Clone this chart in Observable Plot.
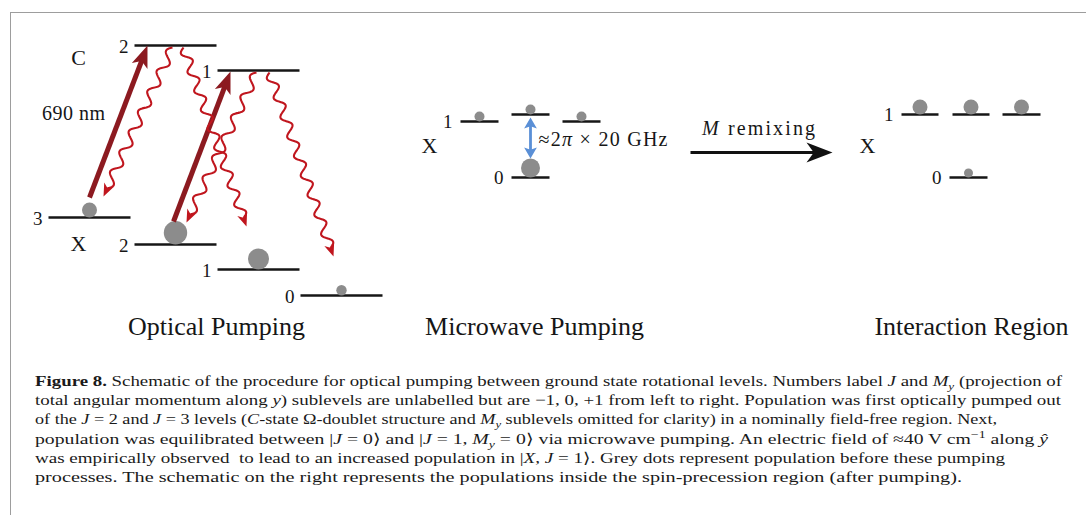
<!DOCTYPE html>
<html><head><meta charset="utf-8">
<script src="https://cdn.jsdelivr.net/npm/d3@7"></script>
<script src="https://cdn.jsdelivr.net/npm/@observablehq/plot@0.6"></script>
<style>
body{margin:0;background:#fff;width:1086px;height:515px;overflow:hidden;position:relative;}
#frame{position:absolute;left:9.5px;top:11.5px;width:1200px;height:600px;border-top:1.6px solid #9d9d9d;border-left:1.6px solid #9d9d9d;}
#chart{position:absolute;left:0;top:0;}
#caption{position:absolute;left:35px;top:372px;font-family:"Liberation Serif",serif;font-size:15px;color:#1a1a1a;}
.ln{white-space:nowrap;height:19.2px;line-height:19.2px;}
.ln span{display:inline-block;transform-origin:0 50%;}
sub,sup{line-height:0;font-size:70%;}
</style></head>
<body><div id="frame"></div><div id="chart"></div><div id="caption"></div>
<script>
// ---------- data ----------
const opticalLevels = [
  {state:"C", J:2, x1:134, x2:216, y:45,  label:"2", pop:0},
  {state:"C", J:1, x1:217, x2:299, y:70,  label:"1", pop:0},
  {state:"X", J:3, x1:48,  x2:130, y:217, label:"3", pop:7.5},
  {state:"X", J:2, x1:134, x2:216, y:244, label:"2", pop:11.7},
  {state:"X", J:1, x1:217, x2:299, y:269, label:"1", pop:10.5},
  {state:"X", J:0, x1:300, x2:382, y:295, label:"0", pop:5.2}
];
const microwaveLevels = [
  {J:1, M:-1, x1:460, x2:498, y:121, label:"1", pop:5},
  {J:1, M:0,  x1:511, x2:549, y:114, label:"",  pop:5},
  {J:1, M:1,  x1:562, x2:600, y:121, label:"",  pop:5},
  {J:0, M:0,  x1:511, x2:549, y:177, label:"0", pop:9.5}
];
const interactionLevels = [
  {J:1, M:-1, x1:901,  x2:938,  y:114, label:"1", pop:7.5},
  {J:1, M:0,  x1:952,  x2:989,  y:114, label:"",  pop:7.5},
  {J:1, M:1,  x1:1002, x2:1040, y:114, label:"",  pop:7.5},
  {J:0, M:0,  x1:949,  x2:987,  y:177, label:"0", pop:4.5}
];
const pumpArrows = [
  {from:"X J=3", to:"C J=2", x1:89,  y1:197, x2:147, y2:45},
  {from:"X J=2", to:"C J=1", x1:173, y1:221, x2:230, y2:71}
];
const decayArrows = [
  {from:"C J=2", to:"X J=3", x1:172, y1:47, x2:103, y2:196},
  {from:"C J=2", to:"X J=1", x1:183, y1:47, x2:246, y2:226},
  {from:"C J=1", to:"X J=2", x1:256, y1:72, x2:186, y2:222},
  {from:"C J=1", to:"X J=0", x1:269, y1:72, x2:333, y2:256}
];
const microwaveArrow = [{x1:530, y1:158, x2:530, y2:117}];
const remixArrow = [{x1:690, y1:152, x2:832, y2:152}];
const titles = [
  {text:"Optical Pumping", x:216, y:326},
  {text:"Microwave Pumping", x:534, y:326},
  {text:"Interaction Region", x:971, y:326}
];
const stateLabels = [
  {text:"C", x:78, y:57}, {text:"X", x:78, y:243},
  {text:"X", x:429, y:145}, {text:"X", x:867, y:145}
];
const notes = [
  {text:"690 nm", x:73, y:113, anchor:"middle"},
  {text:"≈2*π* × 20 GHz", x:538, y:139, anchor:"start"},
  {text:"*M* remixing", x:758, y:128, anchor:"middle"}
];
const captionLines = [
  '<b>Figure 8.</b> Schematic of the procedure for optical pumping between ground state rotational levels. Numbers label <i>J</i> and <i>M<sub>y</sub></i> (projection of',
  'total angular momentum along <i>y</i>) sublevels are unlabelled but are −1, 0, +1 from left to right. Population was first optically pumped out',
  'of the <i>J</i> = 2 and <i>J</i> = 3 levels (<i>C</i>-state Ω-doublet structure and <i>M<sub>y</sub></i> sublevels omitted for clarity) in a nominally field-free region. Next,',
  'population was equilibrated between |<i>J</i> = 0⟩ and |<i>J</i> = 1, <i>M<sub>y</sub></i> = 0⟩ via microwave pumping. An electric field of ≈40 V cm<sup>−1</sup> along <i>ŷ</i>',
  'was empirically observed&nbsp; to lead to an increased population in |<i>X</i>, <i>J</i> = 1⟩. Grey dots represent population before these pumping',
  'processes. The schematic on the right represents the populations inside the spin-precession region (after pumping).'
];
const captionEnds = [1062, 1061, 997, 1048, 1005, 962];

// ---------- helpers ----------
const allLevels = [...opticalLevels, ...microwaveLevels, ...interactionLevels];
const populations = allLevels.filter(d => d.pop > 0);
const angle = d => Math.atan2(d.x2 - d.x1, -(d.y2 - d.y1)) * 180 / Math.PI;

// curve: straight or wavy between two points, trimmed at the ends
function pathCurve({amp = 0, wavelength = 20, insetStart = 0, insetEnd = 0} = {}) {
  return (context) => {
    let pts;
    return {
      areaStart(){}, areaEnd(){},
      lineStart(){ pts = []; },
      point(x, y){ pts.push([+x, +y]); },
      lineEnd(){
        const [a, b] = [pts[0], pts[pts.length - 1]];
        const dx = b[0] - a[0], dy = b[1] - a[1], len = Math.hypot(dx, dy);
        const ux = dx / len, uy = dy / len, px = -uy, py = ux;
        const L = len - insetStart - insetEnd;
        const sx = a[0] + ux * insetStart, sy = a[1] + uy * insetStart;
        if (!amp) { context.moveTo(sx, sy); context.lineTo(sx + ux * L, sy + uy * L); return; }
        const n = Math.max(1, Math.round(L / wavelength));
        const steps = 240;
        for (let k = 0; k <= steps; k++) {
          const t = k / steps, s = t * L, off = amp * Math.sin(2 * Math.PI * n * t);
          const x = sx + ux * s + px * off, y = sy + uy * s + py * off;
          k ? context.lineTo(x, y) : context.moveTo(x, y);
        }
      }
    };
  };
}
// arrow head symbol, tip at origin pointing up; r = head length
function headSymbol(widthRatio, notch) {
  return {
    draw(ctx, size) {
      const L = Math.sqrt(size / Math.PI), W = widthRatio * L;
      ctx.moveTo(0, 0); ctx.lineTo(W, L); ctx.lineTo(0, notch * L); ctx.lineTo(-W, L); ctx.closePath();
    }
  };
}

const serif = "Liberation Serif";
const dark = "#161616";
const pumpRed = "#8c1a20", decayRed = "#c0161e", blue = "#5a8fd6", dotGrey = "#8c8c8c";

const chart = Plot.plot({
  width: 1086, height: 350, margin: 0,
  x: {domain: [0, 1086], range: [0, 1086], axis: null},
  y: {domain: [0, 350], range: [0, 350], axis: null},
  r: {type: "identity"},
  style: {background: "transparent", overflow: "visible"},
  marks: [
    // energy levels
    Plot.link(allLevels, {x1: "x1", x2: "x2", y1: "y", y2: "y", stroke: dark, strokeWidth: 2.6}),
    // level labels
    Plot.text(opticalLevels, {x: "x1", y: "y", text: "label", dx: -6, dy: 1, textAnchor: "end", fontFamily: serif, fontSize: 19, fill: dark}),
    Plot.text([...microwaveLevels, ...interactionLevels].filter(d => d.label), {x: "x1", y: "y", text: "label", dx: -8, dy: 0, textAnchor: "end", fontFamily: serif, fontSize: 19, fill: dark}),
    // populations
    Plot.dot(populations, {x: d => (d.x1 + d.x2) / 2, y: d => d.y - d.pop, r: "pop", fill: dotGrey, stroke: "none"}),
    // optical pumping arrows
    Plot.link(pumpArrows, {x1: "x1", y1: "y1", x2: "x2", y2: "y2", stroke: pumpRed, strokeWidth: 5, curve: pathCurve({insetEnd: 14})}),
    Plot.dot(pumpArrows, {x: "x2", y: "y2", rotate: angle, r: 22, symbol: headSymbol(0.38, 0.75), fill: pumpRed, stroke: "none"}),
    // spontaneous decay (wavy)
    Plot.link(decayArrows, {x1: "x1", y1: "y1", x2: "x2", y2: "y2", stroke: decayRed, strokeWidth: 2.1, fill: "none", curve: pathCurve({amp: 4.5, wavelength: 21, insetEnd: 9})}),
    Plot.dot(decayArrows, {x: "x2", y: "y2", rotate: angle, r: 13, symbol: headSymbol(0.4, 0.72), fill: decayRed, stroke: "none"}),
    // microwave double arrow
    Plot.link(microwaveArrow, {x1: "x1", y1: "y1", x2: "x2", y2: "y2", stroke: blue, strokeWidth: 2.8, curve: pathCurve({insetStart: 8, insetEnd: 8})}),
    Plot.dot(microwaveArrow, {x: "x2", y: "y2", rotate: angle, r: 11, symbol: headSymbol(0.58, 0.8), fill: blue, stroke: "none"}),
    Plot.dot(microwaveArrow, {x: "x1", y: "y1", rotate: d => angle(d) + 180, r: 11, symbol: headSymbol(0.58, 0.8), fill: blue, stroke: "none"}),
    // M remixing arrow
    Plot.link(remixArrow, {x1: "x1", y1: "y1", x2: "x2", y2: "y2", stroke: "#111", strokeWidth: 3, curve: pathCurve({insetEnd: 18})}),
    Plot.dot(remixArrow, {x: "x2", y: "y2", rotate: angle, r: 26, symbol: headSymbol(0.38, 0.72), fill: "#111", stroke: "none"}),
    // labels
    Plot.text(stateLabels, {x: "x", y: "y", text: "text", fontFamily: serif, fontSize: 22, fill: dark}),
    Plot.text(notes, {x: "x", y: "y", text: "text", fontFamily: serif, fontSize: 20, fill: dark}),
    Plot.text(titles, {x: "x", y: "y", text: "text", fontFamily: serif, fontSize: 26, fill: dark})
  ]
});
document.getElementById("chart").appendChild(chart);

// italic segments marked with *...*
chart.querySelectorAll("text").forEach(el => {
  const s = el.textContent;
  if (!s.includes("*")) return;
  el.textContent = "";
  s.split("*").forEach((part, i) => {
    if (!part) return;
    const t = document.createElementNS("http://www.w3.org/2000/svg", "tspan");
    t.textContent = part;
    if (i % 2) t.setAttribute("font-style", "italic");
    el.appendChild(t);
  });
});
// anchors and widths of the annotation texts (Computer-Modern-like spacing)
const noteWidths = {"690 nm": 63, "≈2π × 20 GHz": 129, "M remixing": 113};
chart.querySelectorAll("text").forEach(el => {
  const n = notes.find(d => d.text.replace(/\*/g, "") === el.textContent);
  if (!n) return;
  el.setAttribute("text-anchor", n.anchor);
  const w = noteWidths[el.textContent];
  if (w) { el.setAttribute("textLength", w); el.setAttribute("lengthAdjust", "spacing"); }
});

// caption
const cap = document.getElementById("caption");
captionLines.forEach((html, i) => {
  const ln = document.createElement("div");
  ln.className = "ln";
  const sp = document.createElement("span");
  sp.innerHTML = html;
  ln.appendChild(sp);
  cap.appendChild(ln);
  const w = sp.getBoundingClientRect().width;
  const target = captionEnds[i] - 35;
  sp.style.transform = `scaleX(${target / w})`;
});
</script>
</body></html>
